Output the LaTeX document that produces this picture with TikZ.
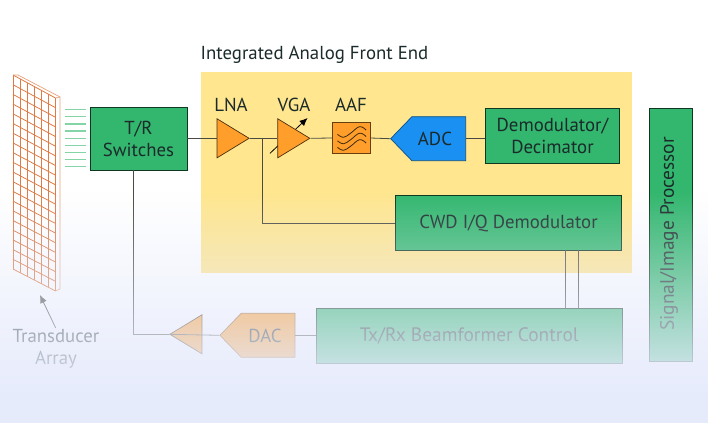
\documentclass[tikz,border=0pt]{standalone}
\usepackage{fontspec}
\setmainfont{PT Sans}
\usetikzlibrary{calc,arrows.meta,shapes.geometric,shapes.symbols,fadings}
\definecolor{paleyellow}{HTML}{FFE68F}
\definecolor{ampcolor}{HTML}{FF9E2A}
\definecolor{adcblue}{HTML}{1A90F2}
\definecolor{boxgreen}{HTML}{33B76E}
\definecolor{gridcolor}{HTML}{DE7B45}
\definecolor{wirecolor}{HTML}{4A4A42}
\definecolor{inkcolor}{HTML}{1B2A2A}
\definecolor{fadecolor}{HTML}{E6EBFC}
\tikzfading[name=fadedown, top color=transparent!100, bottom color=transparent!0]

\begin{document}
\begin{tikzpicture}[x=1pt,y=-1pt]
   \tikzstyle{every node}=[text=inkcolor, font=\fontsize{18.8}{22}\selectfont, align=center]
   \tikzstyle{greenbox}=[draw=black!70!boxgreen, line width=0.9pt, fill=boxgreen, inner sep=0pt, anchor=north west]
   \tikzstyle{amp}=[draw=black!70!ampcolor, line width=0.7pt, fill=ampcolor, isosceles triangle, isosceles triangle stretches, minimum width=39pt, minimum height=32pt, inner sep=0pt, anchor=apex]
   \tikzstyle{converter}=[signal, signal to=west, signal pointer angle=92, line width=0.7pt, inner sep=0pt, minimum width=75pt, minimum height=44pt, anchor=east]
   \tikzstyle{wire}=[draw=wirecolor, line width=0.8pt]
   \tikzstyle{tag}=[inner sep=0pt]
   \tikzstyle{widetag}=[font=\fontsize{19.4}{22}\selectfont]

\useasboundingbox (0,0) rectangle (708,423);
\fill[white] (0,0) rectangle (708,423);
\fill[paleyellow] (200.5,72) rectangle (632,273);
\node[tag] (title) at (314.5,55) {Integrated Analog Front End};

% array
\coordinate (gridTL) at (13,75);
\coordinate (gridTR) at (55.5,98);
\coordinate (gridBL) at (13,269);
\coordinate (gridBR) at (55.5,291);
\foreach \i in {0,...,6} {
    \draw[gridcolor, line width=0.8pt] ($(gridTL)!\i/6!(gridTR)$) -- ($(gridBL)!\i/6!(gridBR)$);
}
\foreach \i in {0,...,20} {
    \draw[gridcolor, line width=0.8pt] ($(gridTL)!\i/20!(gridBL)$) -- ($(gridTR)!\i/20!(gridBR)$);
}
\draw[gridcolor!70, line width=0.7pt] (gridTL) -- (18,75) -- (60,97) -- (60,289) -- (gridBR);
\draw[gridcolor!70, line width=0.7pt] (gridTR) -- (60,97);
\foreach \y in {109.3,116.7,124,131,138.3,145.3,152.3,159.3,166.7} {
    \draw[boxgreen!60, line width=1.1pt] (65,\y) -- (86,\y);
}

% blocks
\node[greenbox, minimum width=97pt, minimum height=62.5pt] (trsw) at (89.5,107) {T/R\\Switches};
\coordinate (vgaFrom) at (270,153.3);
\coordinate (vgaTo) at (307.5,118);
\draw[-{Latex[length=8pt,width=7pt]}, black, line width=0.8pt] (vgaFrom) -- (vgaTo);
\node[amp] (lna) at (250,138.3) {};
\node[amp] (vga) at (310.7,138.3) {};
\node[draw=black!60!ampcolor, line width=0.9pt, fill=ampcolor, minimum width=37.5pt, minimum height=30.5pt, inner sep=0pt] (aaf) at (351.5,138) {};
\foreach \dy in {-6.5,0,6.5} {
    \begin{scope}[shift={(aaf.center)}, yshift=\dy pt]
    \draw[black!75!ampcolor, line width=0.8pt] plot[smooth, tension=0.7] coordinates {(-14,2.8) (-8,5.8) (-1,1.8) (8,-4.8) (14.5,-1.5)};
    \end{scope}
}
\node[converter, draw=black!45!adcblue, fill=adcblue] (adc) at (466,138.7) {};
\node[tag] (adctext) at (435,139) {ADC};
\node[greenbox, minimum width=134pt, minimum height=55pt] (demod) at (485,107.7) {Demodulator/\\Decimator};
\node[greenbox, minimum width=226pt, minimum height=54.7pt] (cwd) at (395,195.3) {CWD I/Q Demodulator};
\node[greenbox, minimum width=42.5pt, minimum height=253.5pt] (proc) at (649,107.5) {};
\node[tag, widetag, rotate=90] (proctext) at (669,234) {Signal/Image Processor};
\node[greenbox, widetag, minimum width=305.5pt, minimum height=54.7pt] (beam) at (316,308) {Tx/Rx Beamformer Control};
\node[converter, draw=black!45!ampcolor, fill=ampcolor] (dac) at (295.3,335.3) {};
\node[tag] (dactext) at (265,335.5) {DAC};
\node[amp, shape border rotate=180] (txamp) at (169,334.3) {};

% labels
\node[tag] (lnatext) at (231,105) {LNA};
\node[tag] (vgatext) at (294,105) {VGA};
\node[tag] (aaftext) at (351,105) {AAF};
\node[tag] (arraytext) at (56,348.5) {Transducer\\Array};

% wires
\coordinate (tap) at (262.7,138.3);
\coordinate (txcorner) at (133.5,334.3);
\coordinate (arrayTip) at (40,295);
\draw[wire] (trsw.east |- lna.west) -- (lna.west);
\draw[wire] (lna.apex) -- (tap) -- (vga.west);
\draw[wire] (vga.apex) -- (aaf.west);
\draw[wire] (aaf.east) -- (adc.west);
\draw[wire] (adc.east) -- (demod.west |- adc.east);
\draw[wire] (tap) -- (tap |- cwd.west) -- (cwd.west);
\draw[wire] (565,250) -- (565,308);
\draw[wire] (578.3,250) -- (578.3,308);
\draw[wire] (trsw.south -| txcorner) -- (txcorner) -- (txamp.apex);
\draw[wire] (txamp.west) -- (dac.west);
\draw[wire] (dac.east) -- (beam.west |- dac.east);
\draw[-{Latex[length=8pt,width=7pt]}, wire, fill=wirecolor] (55.7,328) -- (arrayTip);

% fade towards the bottom
\fill[fadecolor, path fading=fadedown] (0,192) rectangle (708,400);
\fill[fadecolor] (0,400) rectangle (708,423);
\end{tikzpicture}
\end{document}
